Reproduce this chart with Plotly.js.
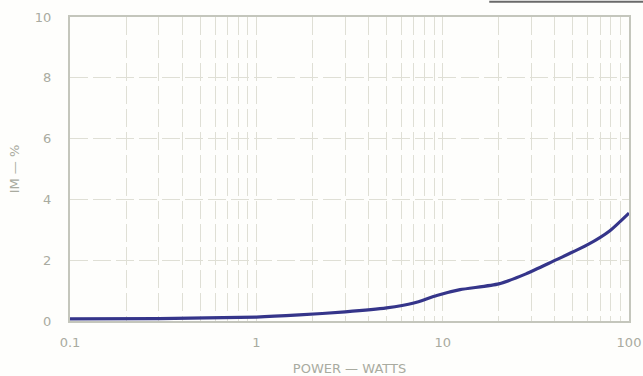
<!DOCTYPE html>
<html>
<head>
<meta charset="utf-8">
<script src="https://cdn.plot.ly/plotly-3.0.1.min.js"></script>
<style>html,body{margin:0;padding:0;background:#fefefc;}#chart{width:643px;height:376px;}</style>
</head>
<body>
<div id="chart"></div>
<script>
const powerWatts = [0.1, 0.3, 1, 1.7, 3, 5, 7, 9.3, 12.4, 20, 28, 39, 60, 79, 100];
const imPercent  = [0.07, 0.08, 0.13, 0.2, 0.3, 0.43, 0.59, 0.84, 1.03, 1.22, 1.55, 1.96, 2.51, 2.97, 3.55];
const xTickVals = [0.1, 1, 10, 100];
const xTickText = ["0.1", "1", "10", "100"];
const yTickVals = [0, 2, 4, 6, 8, 10];

const textColor = "#a9aba0";
const gridColor = "#dfdfd5";

Plotly.newPlot("chart", [{
  x: powerWatts,
  y: imPercent,
  type: "scatter",
  mode: "lines",
  line: {color: "#35358a", width: 3.2, shape: "spline", smoothing: 0.6},
  hoverinfo: "skip"
}], {
  width: 643,
  height: 376,
  margin: {l: 70, r: 14, t: 17, b: 55},
  paper_bgcolor: "#fefefc",
  plot_bgcolor: "#fefefc",
  showlegend: false,
  font: {family: "DejaVu Sans, sans-serif", color: textColor, size: 13},
  xaxis: {
    type: "log",
    range: [-1, 2],
    tickvals: xTickVals,
    ticktext: xTickText,
    showgrid: true,
    gridcolor: gridColor,
    gridwidth: 1,
    griddash: "18px,5px",
    minor: {showgrid: true, gridcolor: gridColor, gridwidth: 1, griddash: "18px,5px", dtick: "D1"},
    showline: true,
    linecolor: "#c4c6bc",
    linewidth: 2,
    mirror: true,
    zeroline: false,
    ticks: "",
    ticklabelstandoff: 8,
    title: {text: "POWER — WATTS", font: {size: 13, color: textColor}, standoff: 16}
  },
  yaxis: {
    range: [0, 10],
    tickvals: yTickVals,
    showgrid: true,
    gridcolor: gridColor,
    gridwidth: 1,
    griddash: "18px,5px",
    showline: true,
    linecolor: "#c4c6bc",
    linewidth: 2,
    mirror: true,
    zeroline: false,
    ticks: "",
    ticklabelstandoff: 14,
    title: {text: "IM — %", font: {size: 13, color: textColor}, standoff: 12}
  },
  shapes: [{type: "line", xref: "paper", yref: "paper", x0: 0.75, x1: 1.03, y0: 1.05, y1: 1.05,
            line: {color: "#6a6a6a", width: 2}}]
}, {displayModeBar: false, staticPlot: true});
</script>
</body>
</html>
